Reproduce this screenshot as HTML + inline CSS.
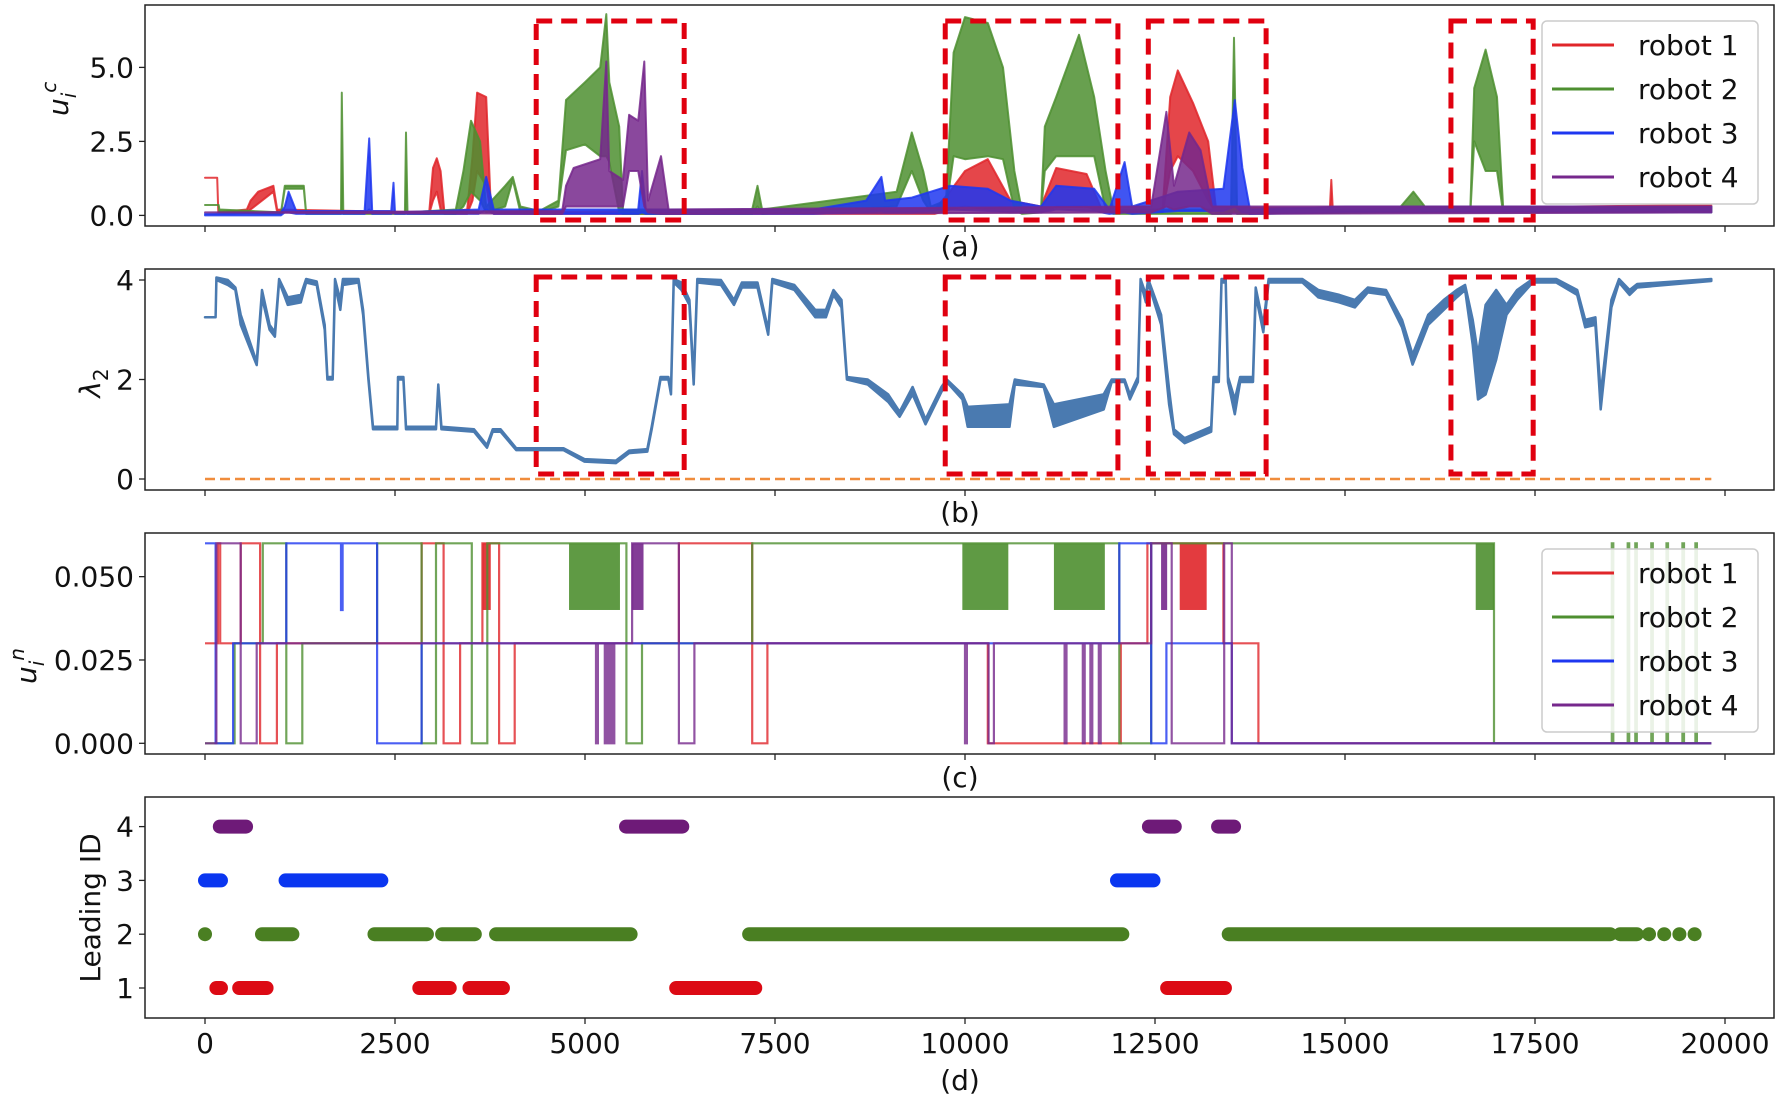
<!DOCTYPE html>
<html><head><meta charset="utf-8"><style>
body{margin:0;background:#fff}
svg{display:block;font-family:"DejaVu Sans","Liberation Sans",sans-serif}
</style></head><body>
<svg id="chart" width="1785" height="1095" viewBox="0 0 1785 1095" xmlns="http://www.w3.org/2000/svg"></svg>
<script>
// ---------- data ----------
const xTicks=[0,2500,5000,7500,10000,12500,15000,17500,20000];
const aTicks=[0,2.5,5.0], aTickLabels=["0.0","2.5","5.0"];
const bTicks=[0,2,4], bTickLabels=["0","2","4"];
const cTicks=[0,0.025,0.05], cTickLabels=["0.000","0.025","0.050"];
const dTicks=[1,2,3,4], dTickLabels=["1","2","3","4"];
const robotNames=["robot 1","robot 2","robot 3","robot 4"];
// (a) control effort bands: x, low, high
const r1aX=[0,160,175,550,600,700,900,950,2950,3000,3050,3100,3150,3450,3520,3580,3700,3760,3800,9600,9800,10000,10300,10600,11000,11200,11600,11800,12600,12700,12800,13000,13200,13300,14800,14820,14840,18000,19820];
const r1aLo=[1.27,1.27,0.1,0.1,0.2,0.4,0.8,0.1,0.05,0.5,0.8,0.2,0.05,0.05,0.5,1.5,1.0,0.1,0.05,0.05,0.2,0.3,0.2,0.1,0.1,0.3,0.3,0.1,0.1,1.5,2.0,1.5,0.5,0.1,0.1,0.1,0.1,0.1,0.1];
const r1aHi=[1.27,1.27,0.1,0.2,0.5,0.8,1.0,0.2,0.1,1.6,1.93,1.5,0.1,0.2,2.0,4.15,4.0,0.3,0.1,0.2,0.8,1.5,1.9,0.5,0.3,1.6,1.4,0.2,0.2,4.0,4.9,3.8,2.5,0.3,0.2,1.2,0.2,0.3,0.35];
const r2aX=[0,180,190,1000,1050,1300,1330,1790,1800,1820,2630,2645,2665,3300,3400,3500,3620,3700,3950,4050,4150,4400,4650,4750,5000,5200,5280,5320,5450,5500,7200,7270,7330,9100,9300,9450,9550,9750,9850,10000,10300,10500,10650,10750,11000,11050,11200,11500,11700,11850,11950,13500,13540,13580,15700,15900,16050,16650,16700,16850,17000,17080,19820];
const r2aLo=[0.35,0.35,0.1,0.05,0.9,0.9,0.05,0.05,0.1,0.05,0.05,0.1,0.05,0.05,0.3,0.8,0.5,0.1,0.3,1.2,0.1,0.1,0.3,2.2,2.4,2.0,2.0,1.8,0.1,0.05,0.05,0.3,0.05,0.3,1.5,0.5,0.1,0.2,2.0,1.9,2.0,1.9,0.2,0.05,0.1,1.5,2.0,2.0,2.0,0.2,0.05,0.05,0.2,0.05,0.1,0.3,0.1,0.1,2.5,1.5,1.5,0.1,0.1];
const r2aHi=[0.35,0.35,0.2,0.1,1.0,1.0,0.1,0.1,4.15,0.1,0.1,2.8,0.1,0.2,1.5,3.2,2.5,0.3,1.0,1.3,0.3,0.15,0.5,3.9,4.5,5.0,6.8,4.5,3.0,0.2,0.2,1.0,0.2,0.8,2.8,1.5,0.3,0.5,5.5,6.7,6.5,5.0,1.5,0.15,0.2,3.0,4.0,6.1,4.0,1.5,0.2,0.2,6.0,0.2,0.2,0.8,0.3,0.3,4.3,5.6,4.0,0.3,0.3];
const r3aX=[0,1000,1050,1100,1200,2100,2160,2200,2450,2480,2500,3600,3700,3800,5700,5750,5800,8000,8700,8900,8950,9300,9800,10300,10600,11000,11200,11700,11900,12100,12200,12800,13400,13550,13650,13750,15000,19820];
const r3aLo=[0,0,0.1,0.1,0.05,0.05,0.2,0.05,0.05,0.1,0.05,0.05,0.2,0.05,0.05,0.1,0.05,0.05,0.1,0.15,0.1,0.1,0.2,0.15,0.1,0.1,0.2,0.15,0.05,0.1,0.05,0.15,0.15,0.3,0.1,0.05,0.1,0.1];
const r3aHi=[0.05,0.1,0.3,0.8,0.15,0.15,2.6,0.15,0.15,1.1,0.1,0.2,1.3,0.2,0.2,1.5,0.2,0.2,0.5,1.3,0.5,0.6,1.0,0.9,0.5,0.3,1.0,0.9,0.2,1.8,0.3,0.8,0.9,3.9,1.6,0.2,0.3,0.3];
const r4aX=[0,4700,4750,4850,5200,5280,5320,5500,5580,5700,5780,5830,6000,6100,12450,12650,12750,12950,13100,13250,19820];
const r4aLo=[0.1,0.05,0.3,0.3,0.3,0.3,0.3,0.3,1.5,1.5,0.3,0.1,0.05,0.05,0.1,0.3,0.2,0.3,0.3,0.05,0.1];
const r4aHi=[0.1,0.15,1.0,1.6,1.9,5.2,1.5,1.2,3.4,3.2,5.2,0.5,2.0,0.2,0.3,3.5,1.0,2.8,2.2,0.3,0.3];
// (b) lambda2: x, low, high
const lamX=[0,140,150,300,400,470,680,750,850,920,975,1090,1260,1330,1470,1575,1610,1680,1710,1780,1815,2020,2080,2150,2210,2530,2540,2610,2645,3040,3070,3110,3540,3710,3785,3890,4095,4717,4993,5407,5580,5820,5877,5994,6098,6132,6167,6270,6374,6430,6478,6790,6960,7065,7270,7410,7465,7755,8030,8170,8270,8375,8446,8720,8990,9140,9310,9480,9690,9760,9966,10035,10585,10655,11035,11170,11825,11930,12100,12170,12275,12310,12380,12410,12580,12685,12750,12890,13240,13270,13340,13375,13430,13460,13550,13620,13790,13825,13925,13995,14440,14650,14925,15130,15300,15540,15750,15890,16095,16300,16470,16580,16680,16750,16850,16990,17125,17265,17470,17780,18055,18160,18295,18365,18505,18605,18745,18845,19820];
const lamLo=[3.25,3.25,4.0,3.9,3.8,3.1,2.29,3.65,3.0,2.86,3.97,3.5,3.55,3.95,3.9,3.0,2.0,2.0,3.9,3.4,3.9,3.95,3.3,2.0,1.0,1.0,2.0,2.0,1.0,1.0,1.85,1.0,0.95,0.63,0.95,0.95,0.58,0.58,0.35,0.32,0.52,0.55,1.0,2.0,2.0,1.7,3.95,3.8,3.5,1.9,3.95,3.9,3.5,3.85,3.85,2.9,3.95,3.8,3.25,3.25,3.7,3.45,2.0,1.9,1.55,1.25,1.7,1.1,1.75,1.95,1.6,1.05,1.05,1.9,1.85,1.05,1.4,1.95,1.95,1.6,1.95,3.95,3.55,3.95,3.1,1.5,0.9,0.72,0.95,1.95,1.95,3.95,3.95,1.95,1.3,1.95,1.95,3.7,2.95,3.95,3.95,3.65,3.55,3.45,3.75,3.7,3.05,2.3,3.1,3.4,3.65,3.8,2.7,1.6,1.7,2.4,3.3,3.6,3.95,3.95,3.7,3.05,3.1,1.4,3.45,3.95,3.7,3.85,3.98];
const lamHi=[3.25,3.25,4.05,4.0,3.85,3.3,2.35,3.8,3.1,2.95,4.02,3.65,3.7,4.02,3.97,3.1,2.05,2.05,4.02,3.6,4.02,4.02,3.4,2.05,1.05,1.05,2.05,2.05,1.05,1.05,1.9,1.05,1.0,0.68,1.0,1.0,0.62,0.62,0.4,0.37,0.57,0.6,1.05,2.05,2.05,1.8,4.02,3.95,3.6,2.0,4.02,4.0,3.6,3.95,3.95,3.0,4.02,3.9,3.4,3.4,3.8,3.6,2.05,2.0,1.7,1.35,1.85,1.2,1.85,2.0,1.7,1.45,1.5,2.0,1.9,1.5,1.7,2.0,2.0,1.7,2.05,4.02,3.7,4.02,3.3,1.8,1.0,0.82,1.05,2.05,2.05,4.02,4.02,2.05,1.6,2.05,2.05,3.85,3.1,4.02,4.02,3.8,3.7,3.6,3.85,3.8,3.2,2.5,3.3,3.6,3.8,3.9,3.2,2.5,3.5,3.8,3.5,3.8,4.02,4.02,3.8,3.2,3.25,1.7,3.6,4.02,3.8,3.92,4.02];
const baselineX=[0,19820], baselineV=[0,0];
// (c) step functions: change points and levels
const r1cX=[0,170,200,470,725,946,2850,3140,3356,3650,3870,4075,6235,7200,7400,10300,12050,12400,13400,13860,19820];
const r1cV=[0.03,0.06,0.03,0.06,0,0.03,0.06,0,0.03,0.06,0,0.03,0.06,0,0.03,0,0.03,0.06,0.03,0,0];
const r2cX=[0,390,760,1070,1280,2265,2850,3040,3510,3715,5460,5545,5750,7200,12030,12450,16960,18510,18530,18720,18740,18820,18840,19030,19050,19230,19250,19440,19460,19610,19630,19820];
const r2cV=[0,0.03,0.06,0,0.03,0.06,0,0.06,0,0.06,0.06,0,0.03,0.06,0,0.06,0,0.06,0,0.06,0,0.06,0,0.06,0,0.06,0,0.06,0,0.06,0,0];
const r3cX=[0,140,370,1070,1790,1810,2265,2850,12030,12450,12650,13510,19820];
const r3cV=[0.06,0,0.03,0.06,0.04,0.06,0,0.03,0.06,0,0.03,0,0];
const r4cX=[0,150,470,680,5145,5170,5260,5285,5310,5335,5360,5385,5620,6235,6440,10000,10025,10310,10380,11310,11335,11550,11575,11650,11675,11760,11785,12450,12720,13410,13510,19820];
const r4cV=[0,0.06,0,0.03,0,0.03,0,0.03,0,0.03,0,0.03,0.06,0,0.03,0,0.03,0,0.03,0,0.03,0,0.03,0,0.03,0,0.03,0.06,0,0.06,0,0];
// (c) rapid-switching blocks: robot index, start, end
const blockRobot=[1,1,1,1,0,0,3,3];
const blockStart=[4790,9965,11170,16720,3650,12825,5620,12580];
const blockEnd=[5460,10570,11840,16960,3760,13180,5770,12660];
const blockLo=[0.04,0.04,0.04,0.04,0.04,0.04,0.04,0.04];
const blockHi=[0.06,0.06,0.06,0.06,0.06,0.06,0.06,0.06];
// (d) leading-ID runs: id, start, end
const leadId=[4,4,4,4,3,3,3,2,2,2,2,2,2,2,2,2,2,2,2,1,1,1,1,1,1];
const leadStart=[195,5540,12420,13330,0,1060,12000,0,750,2230,3120,3830,7160,13470,18620,19000,19200,19400,19600,150,450,2820,3480,6200,12660];
const leadEnd=[540,6280,12760,13540,210,2320,12480,0,1150,2920,3550,5600,12070,18490,18840,19000,19200,19400,19600,210,810,3220,3920,7240,13420];
// highlighted windows (x ranges)
const boxStart=[4358,9740,12412,16394];
const boxEnd=[6305,12012,13962,17476];

// ---------- drawing ----------
const NS="http://www.w3.org/2000/svg";
const svg=document.getElementById('chart');
function mk(tag,attrs,parent){const e=document.createElementNS(NS,tag);for(const k in attrs)e.setAttribute(k,attrs[k]);(parent||svg).appendChild(e);return e;}
const L=145,R=1774,H=221;
const tops=[5,269,533,797];
const sx=v=>205+v*0.076;
const syA=v=>215.4-v*29.6;
const syB=v=>479-v*49.75;
const syC=v=>743.3-v*3333;
const syD=v=>988-(v-1)*53.8;
const colors=["rgb(224,38,42)","rgb(78,143,48)","rgb(30,55,240)","rgb(118,40,140)"];
const dotColors=["#dc0a14","#4a7f22","#0a36f0","#6e1a78"];

const defs=mk('defs',{});
tops.forEach((t,i)=>{const cp=mk('clipPath',{id:'clip'+i},defs);mk('rect',{x:L,y:t,width:R-L,height:H},cp);});

function bandPath(xs,lo,hi,sy){let d='M'+xs.map((x,i)=>sx(x).toFixed(1)+','+sy(hi[i]).toFixed(1)).join('L');
 for(let i=xs.length-1;i>=0;i--)d+='L'+sx(xs[i]).toFixed(1)+','+sy(lo[i]).toFixed(1);return d+'Z';}
function stepPath(xs,vs,sy){let d='M'+sx(xs[0]).toFixed(1)+','+sy(vs[0]).toFixed(1);
 for(let i=1;i<xs.length;i++){d+='H'+sx(xs[i]).toFixed(1)+'V'+sy(vs[i]).toFixed(1);}return d;}

function axes(i,ticks,labels,sy,name){
 const t=tops[i];
 const ax=mk('rect',{x:L,y:t,width:R-L,height:H,fill:'none',stroke:'#222','stroke-width':1.5});
 
 xTicks.forEach((v,k)=>{const ln=mk('line',{x1:sx(v),x2:sx(v),y1:t+H,y2:t+H+6,stroke:'#222','stroke-width':1.3});
  
  if(i===3){const tx=mk('text',{x:sx(v),y:t+H+35,'text-anchor':'middle','font-size':28,fill:'#111'});tx.textContent=v;
   }});
 ticks.forEach((v,k)=>{const y=sy(v);const ln=mk('line',{x1:L-6,x2:L,y1:y,y2:y,stroke:'#222','stroke-width':1.3});
  
  const tx=mk('text',{x:L-11,y:y+10,'text-anchor':'end','font-size':28,fill:'#111'});tx.textContent=labels[k];
  });
}
function caption(txt,y){const c=mk('text',{x:960,y:y,'text-anchor':'middle','font-size':28,fill:'#111'});c.textContent=txt;
 }
function boxes(i,y0,y1){const g=mk('g',{'clip-path':'url(#clip'+i+')'});
 boxStart.forEach((s,k)=>{const r=mk('rect',{x:sx(s),y:y0,width:sx(boxEnd[k])-sx(s),height:y1-y0,fill:'none',stroke:'#e0000f','stroke-width':5,'stroke-dasharray':'16 9'},g);
  });}
function legend(top){const g=mk('g',{});
 mk('rect',{x:1542,y:top,width:216,height:183,rx:5,fill:'#fff','fill-opacity':0.85,stroke:'#ccc','stroke-width':1.5},g);
 robotNames.forEach((n,k)=>{const y=top+24+k*44;
  const ln=mk('line',{x1:1552,x2:1614,y1:y,y2:y,stroke:colors[k],'stroke-width':3},g);
  
  const tx=mk('text',{x:1638,y:y+10,'font-size':28,fill:'#111'},g);tx.textContent=n;
  });}

// Panel a
axes(0,aTicks,aTickLabels,syA,'panel-a');
{const g=mk('g',{'clip-path':'url(#clip0)'});
 [[r1aX,r1aLo,r1aHi],[r2aX,r2aLo,r2aHi],[r3aX,r3aLo,r3aHi],[r4aX,r4aLo,r4aHi]].forEach((s,k)=>{
  const p=mk('path',{d:bandPath(s[0],s[1],s[2],syA),fill:colors[k],'fill-opacity':0.85,stroke:colors[k],'stroke-width':2,'stroke-opacity':0.85,'stroke-linejoin':'round'},g);
  });}
boxes(0,21,220);
legend(21);
caption('(a)',256);
{const t=mk('text',{transform:'translate(68,116) rotate(-90)','font-size':28,fill:'#111','font-style':'italic'});
 t.innerHTML='u<tspan dy="8" font-size="20">i</tspan><tspan dy="-20" font-size="20">c</tspan>';
 }

// Panel b
axes(1,bTicks,bTickLabels,syB,'panel-b');
{const g=mk('g',{'clip-path':'url(#clip1)'});
 const bl=mk('path',{d:'M'+sx(baselineX[0])+','+syB(baselineV[0])+'L'+sx(baselineX[1])+','+syB(baselineV[1]),stroke:'#f08c3c','stroke-width':2.5,'stroke-dasharray':'10 5',fill:'none'},g);
 
 const p=mk('path',{d:bandPath(lamX,lamLo,lamHi,syB),fill:'#4a7ab0',stroke:'#4a7ab0','stroke-width':2.5,'stroke-linejoin':'round'},g);
 }
boxes(1,277,474);
caption('(b)',522);
{const t=mk('text',{transform:'translate(100,383) rotate(-90)','font-size':28,fill:'#111','text-anchor':'middle','font-style':'italic'});
 t.innerHTML='λ<tspan dy="8" font-size="20" font-style="normal">2</tspan>';
 }

// Panel c
axes(2,cTicks,cTickLabels,syC,'panel-c');
{const g=mk('g',{'clip-path':'url(#clip2)'});
 blockRobot.forEach((r,k)=>{const b=mk('rect',{x:sx(blockStart[k]),y:syC(blockHi[k]),width:sx(blockEnd[k])-sx(blockStart[k]),height:syC(blockLo[k])-syC(blockHi[k]),fill:colors[r],'fill-opacity':0.9},g);
  });
 [[r1cX,r1cV],[r2cX,r2cV],[r3cX,r3cV],[r4cX,r4cV]].forEach((s,k)=>{
  const p=mk('path',{d:stepPath(s[0],s[1],syC),fill:'none',stroke:colors[k],'stroke-width':2.2,'stroke-opacity':0.8},g);
  });}
legend(549);
caption('(c)',787);
{const t=mk('text',{transform:'translate(36,684) rotate(-90)','font-size':28,fill:'#111','font-style':'italic'});
 t.innerHTML='u<tspan dy="8" font-size="20">i</tspan><tspan dy="-20" font-size="20">n</tspan>';
 }

// Panel d
axes(3,dTicks,dTickLabels,syD,'panel-d');
{const g=mk('g',{'clip-path':'url(#clip3)'});
 leadId.forEach((id,k)=>{const y=syD(id);
  const ln=mk('line',{x1:sx(leadStart[k]),x2:sx(leadEnd[k])+0.01,y1:y,y2:y,stroke:dotColors[id-1],'stroke-width':14,'stroke-linecap':'round'},g);
  });}
caption('(d)',1090);
{const t=mk('text',{transform:'translate(100,908) rotate(-90)','font-size':28,fill:'#111','text-anchor':'middle'});t.textContent='Leading ID';
 }
</script>
</body></html>
